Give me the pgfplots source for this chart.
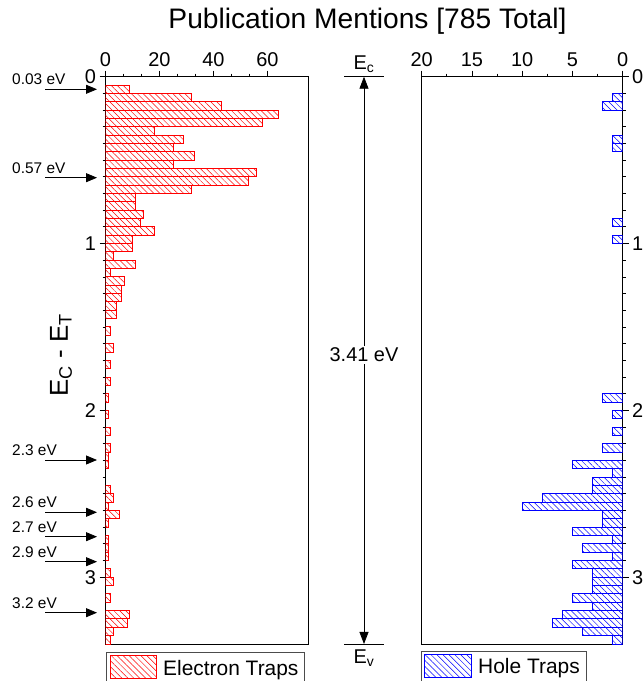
\documentclass[border=0pt]{standalone}
\usepackage{fontspec}
\setmainfont{Liberation Sans}
\usepackage{pgfplots}
\usepackage{pgfplotstable}
\pgfplotsset{compat=1.18}
\usetikzlibrary{patterns.meta,arrows.meta}

\pgfplotstableread{
y v
0.075 9
0.125 32
0.175 43
0.225 64
0.275 58
0.325 18
0.375 29
0.425 25
0.475 33
0.525 25
0.575 56
0.625 53
0.675 32
0.725 11
0.775 11
0.825 14
0.875 13
0.925 18
0.975 10
1.025 10
1.075 3
1.125 11
1.175 2
1.225 7
1.275 6
1.325 6
1.375 4
1.425 4
1.525 2
1.625 3
1.725 2
1.825 2
1.925 1
2.025 1
2.125 2
2.225 2
2.275 1
2.325 1
2.475 2
2.525 3
2.575 1
2.625 5
2.675 1
2.775 1
2.825 1
2.875 1
2.975 2
3.025 3
3.125 2
3.225 9
3.275 8
3.325 3
3.375 2
}\electron

\pgfplotstableread{
y v
0.125 1
0.175 2
0.375 1
0.425 1
0.875 1
0.975 1
1.925 2
2.025 1
2.125 1
2.225 2
2.325 5
2.375 1
2.425 3
2.475 3
2.525 8
2.575 10
2.625 2
2.675 2
2.725 5
2.775 1
2.825 4
2.875 1
2.925 5
2.975 3
3.025 3
3.075 3
3.125 5
3.175 3
3.225 6
3.275 7
3.325 4
3.375 1
}\hole

\pgfplotsset{
  panel/.style={
    scale only axis, height=567.3bp,
    y dir=reverse, ymin=0, ymax=3.4,
    ytick={0,1,2,3}, minor y tick num=9,
    tick align=outside,
    major tick length=6bp, minor tick length=3bp,
    axis line style={line width=1pt},
    every tick/.append style={black, line width=0.8pt},
    tick label style={font=\fontsize{20}{24}\selectfont},
    /pgf/number format/assume math mode=true,
    xtick pos=right, xticklabel pos=right,
  },
  hatchfill/.style={xbar, bar width=0.05, bar shift=0pt, draw=none,
    pattern={Lines[angle=-45,distance=4.2bp,line width=0.5pt]}, pattern color=#1},
  hatchedge/.style={xbar, bar width=0.05, bar shift=0pt, fill=none, draw=#1, line width=1pt},
}

\begin{document}
\begin{tikzpicture}
\useasboundingbox (0bp,0bp) rectangle (644bp,681bp);

% left panel: electron traps
\begin{axis}[panel, at={(105.5bp,37bp)}, anchor=south west, width=202.5bp,
  xmin=0, xmax=75, xtick={0,20,40,60}, minor x tick num=2,
  ytick pos=left, yticklabel pos=left]
\addplot[hatchfill=red] table[x=v,y=y] {\electron};
\addplot[hatchedge=red] table[x=v,y=y] {\electron};
\end{axis}

% right panel: hole traps
\begin{axis}[panel, at={(421.7bp,37bp)}, anchor=south west, width=201bp,
  xmin=0, xmax=20, x dir=reverse, xtick={0,5,10,15,20}, minor x tick num=1,
  ytick pos=right, yticklabel pos=right]
\addplot[hatchfill=blue] table[x=v,y=y] {\hole};
\addplot[hatchedge=blue] table[x=v,y=y] {\hole};
\end{axis}

% title
\node[font=\fontsize{28.3}{34}\selectfont, anchor=base] at (367.5bp,652bp) {Publication Mentions [785 Total]};

% y label
\node[font=\fontsize{26}{30}\selectfont, rotate=90] at (61bp,326bp) {E\textsubscript{C} - E\textsubscript{T}};

% left arrows with labels
\foreach \yy/\lab in {89.3/0.03, 177.7/0.57, 460/2.3, 512.3/2.6, 536.7/2.7, 561.7/2.9, 612.7/3.2}{
  \draw[line width=0.8pt, -{Triangle[width=9bp,length=11bp]}] (45bp,681bp-\yy bp) -- (97bp,681bp-\yy bp);
  \node[font=\fontsize{15.5}{18}\selectfont, anchor=base west, inner sep=0pt] at (12bp,685.5bp-\yy bp) {\lab\ eV};
}

% middle band-gap annotation
\draw[line width=0.8pt] (344bp,604.3bp) -- (384bp,604.3bp);
\draw[line width=0.8pt] (344bp,37bp) -- (384bp,37bp);
\node[font=\fontsize{20}{24}\selectfont, anchor=south] at (364bp,605bp) {E\textsubscript{c}};
\node[font=\fontsize{20}{24}\selectfont, anchor=north] at (364bp,35bp) {E\textsubscript{v}};
\draw[line width=0.8pt, {Triangle[width=9bp,length=12bp]}-{Triangle[width=9bp,length=12bp]}] (364bp,604.3bp) -- (364bp,37bp);
\node[font=\fontsize{20}{24}\selectfont, fill=white, inner sep=2pt] at (364bp,326bp) {3.41 eV};

% legends
\draw[line width=0.6pt, black!70] (106bp,29bp) rectangle (304bp,-5bp);
\draw[draw=red, line width=1pt, pattern={Lines[angle=-45,distance=4.2bp,line width=0.5pt]}, pattern color=red] (110bp,2.7bp) rectangle (156bp,25.3bp);
\node[font=\fontsize{21}{24}\selectfont, anchor=base west, inner sep=0pt] at (163bp,6bp) {Electron Traps};

\draw[line width=0.6pt, black!70] (421bp,30bp) rectangle (586bp,-5bp);
\draw[draw=blue, line width=1pt, pattern={Lines[angle=-45,distance=4.2bp,line width=0.5pt]}, pattern color=blue] (424bp,3.3bp) rectangle (471.7bp,26.7bp);
\node[font=\fontsize{21}{24}\selectfont, anchor=base west, inner sep=0pt] at (478bp,8bp) {Hole Traps};
\end{tikzpicture}
\end{document}
